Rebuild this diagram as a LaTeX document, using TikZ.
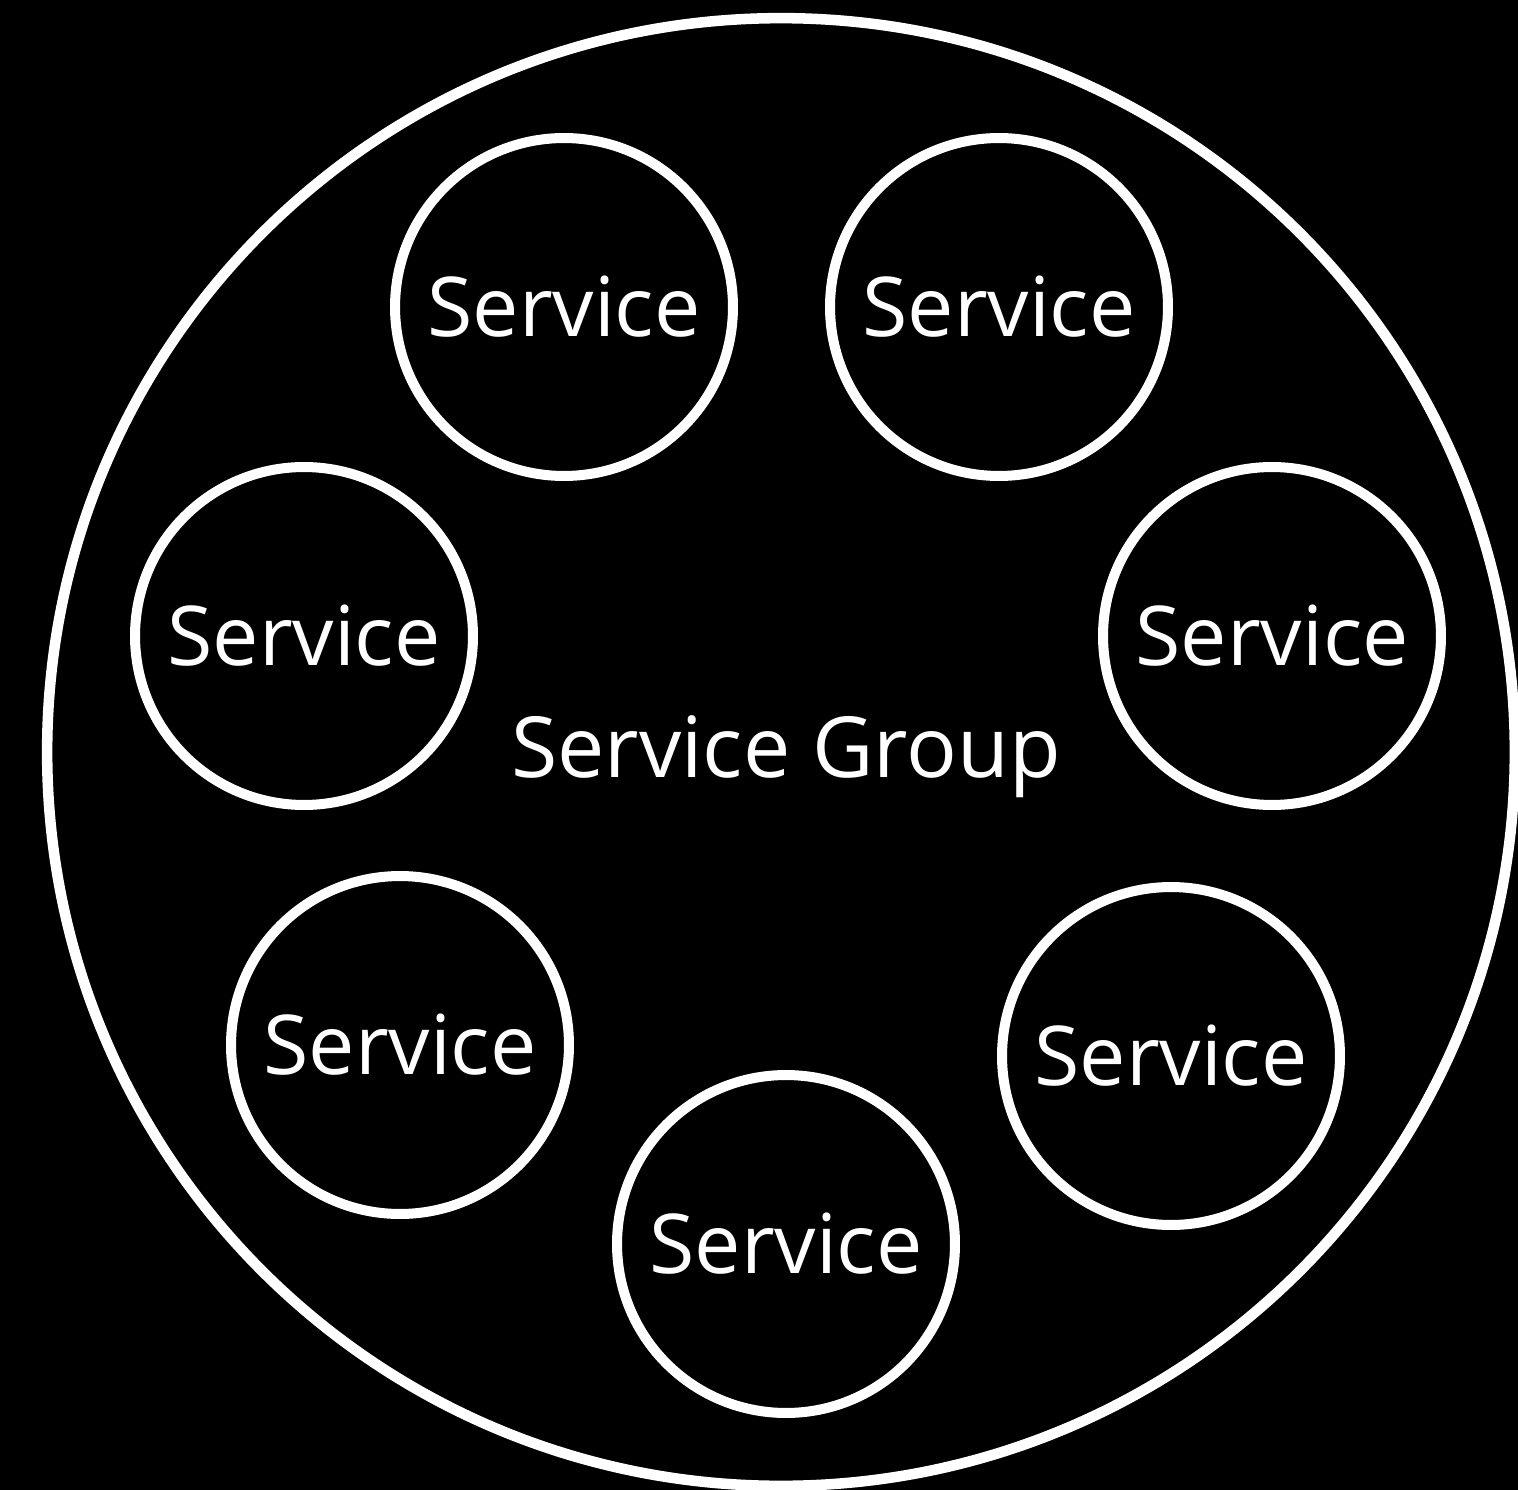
\documentclass[tikz,border=0pt]{standalone}
\usepackage{fontspec}
\setmainfont{Open Sans}
\usepackage{tikz}
\usetikzlibrary{positioning, backgrounds}
\tikzstyle{service} = [circle, draw=white, line width=5.7pt, minimum size=6.76cm, inner sep=0pt, text=white, font=\fontsize{47}{56}\selectfont]
\tikzstyle{group} = [circle, draw=white, line width=6pt, minimum size=29.36cm, inner sep=0pt]

\begin{document}
\begin{tikzpicture}[x=0.02cm, y=-0.02cm]
    % Background
    \fill[black] (0,0) rectangle (1518,1490);
    \useasboundingbox (0,0) rectangle (1518,1490);

    % Service Group
    \node[group] (grp) at (781, 752) {};
    \node[text=white, font=\fontsize{48}{58}\selectfont] (grplabel) at (786, 757) {Service Group};

    % Services
    \node[service] (svc1) at (564, 307) {Service};
    \node[service] (svc2) at (999, 307) {Service};
    \node[service] (svc3) at (304, 636) {Service};
    \node[service] (svc4) at (1272, 636) {Service};
    \node[service] (svc5) at (400, 1045) {Service};
    \node[service] (svc6) at (1171, 1056) {Service};
    \node[service] (svc7) at (786, 1244) {Service};
\end{tikzpicture}
\end{document}
